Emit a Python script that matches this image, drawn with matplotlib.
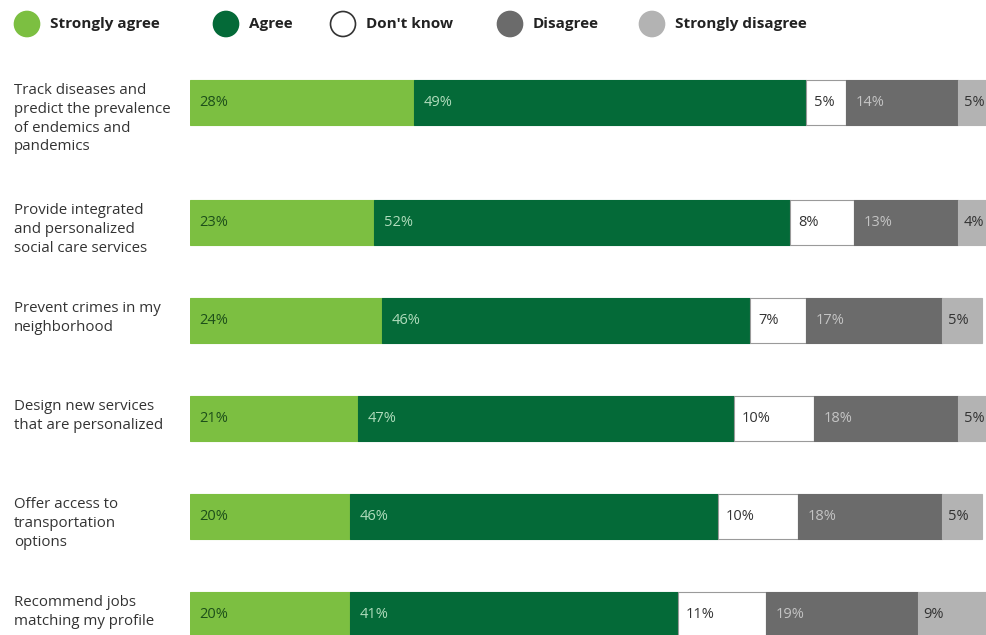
import matplotlib.pyplot as plt
from matplotlib.patches import Ellipse
import numpy as np

plt.rcParams['font.family'] = ['Open Sans', 'DejaVu Sans']

# Survey answers, one row per use case
questions = [
    "Track diseases and\npredict the prevalence\nof endemics and\npandemics",
    "Provide integrated\nand personalized\nsocial care services",
    "Prevent crimes in my\nneighborhood",
    "Design new services\nthat are personalized",
    "Offer access to\ntransportation\noptions",
    "Recommend jobs\nmatching my profile",
]
answers = ["Strongly agree", "Agree", "Don't know", "Disagree", "Strongly disagree"]

strongly_agree = [28, 23, 24, 21, 20, 20]
agree = [49, 52, 46, 47, 46, 41]
dont_know = [5, 8, 7, 10, 10, 11]
disagree = [14, 13, 17, 18, 18, 19]
strongly_disagree = [5, 4, 5, 5, 5, 9]

# layout (rows in pixel units from the top of the figure)
row_y = [102, 222, 320, 418, 516, 614]
bar_h = 45
colors = ["#7cbf41", "#046a38", "#ffffff", "#6b6b6b", "#b3b3b3"]
text_colors = ["#1d4f1a", "#b0dcbc", "#333333", "#c4c4c4", "#333333"]
pads = [1.2, 1.2, 1.0, 1.2, 0.7]

W, H = 987, 635
fig = plt.figure(figsize=(W / 100, H / 100), dpi=100)
ax = fig.add_axes([190 / W, 0, (W - 190) / W, 1])
ax.set_xlim(0, (W - 190) / 8)
ax.set_ylim(H, 0)
ax.axis("off")

series = [strongly_agree, agree, dont_know, disagree, strongly_disagree]
left = np.zeros(len(questions))
for vals, col, tcol, pad in zip(series, colors, text_colors, pads):
    vals = np.array(vals)
    ax.barh(row_y, vals, left=left, height=bar_h, color=col,
            edgecolor="#9a9a9a" if col == "#ffffff" else col, linewidth=0.8)
    for y, l, v in zip(row_y, left, vals):
        ax.text(l + pad, y, f"{v}%", color=tcol, fontsize=10.5, va="center",
                ha="left")
    left += vals

# category labels to the left of the bars
for y, q in zip(row_y, questions):
    fig.text(14 / W, 1 - (y - bar_h / 2 + 4) / H, q, fontsize=10.8, color="#333333",
             va="top", ha="left", linespacing=1.32)

# legend row
legend_x = [27, 226, 343, 510, 652]
for x, name, col in zip(legend_x, answers, colors):
    fig.add_artist(Ellipse((x / W, 1 - 24 / H), 25 / W, 25 / H, transform=fig.transFigure,
                           facecolor=col, edgecolor="#333333" if col == "#ffffff" else col,
                           linewidth=1.2))
    fig.text((x + 23) / W, 1 - 24 / H, name, fontsize=11, fontweight="bold",
             color="#222222", va="center", ha="left")

fig.savefig("out.png", dpi=100)
